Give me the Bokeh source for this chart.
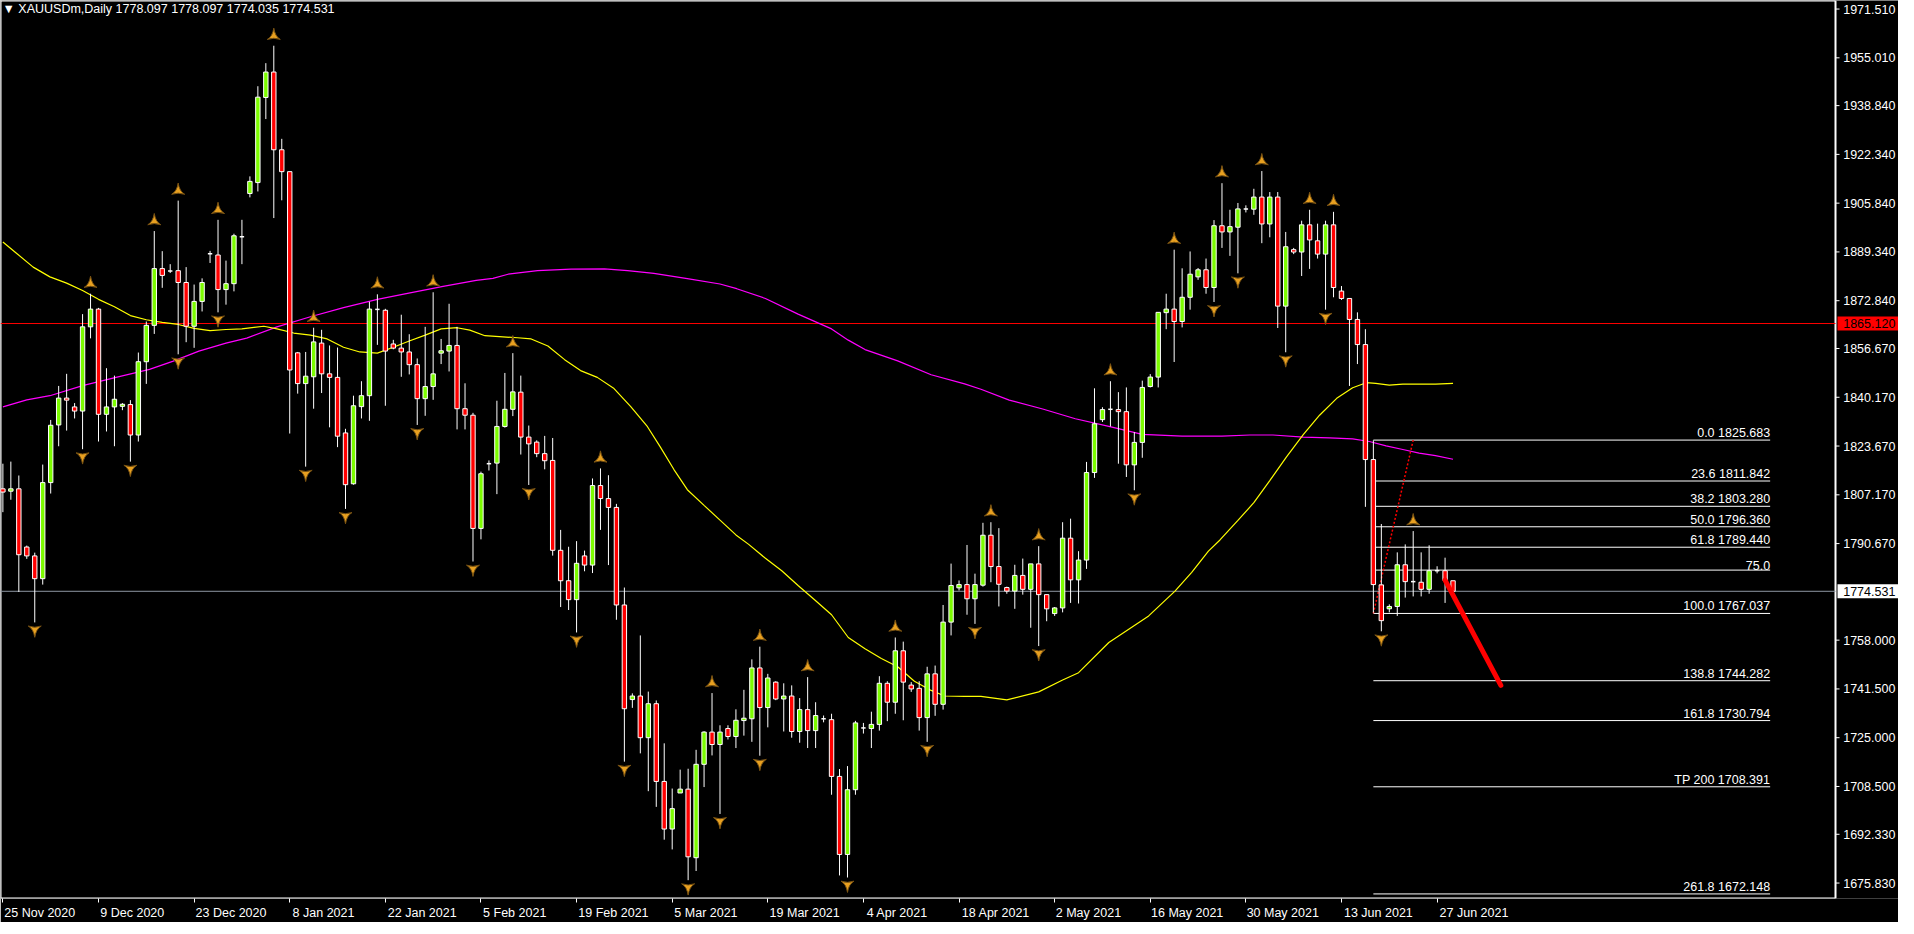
import numpy as np
from bokeh.plotting import figure
from bokeh.models import FixedTicker, Label
from bokeh.core.properties import value
from bokeh.embed import file_html
from bokeh.resources import INLINE

FONT = "Liberation Sans"
FS = "12.5px"

# ---------------- data ----------------
header_text = "\u25bc XAUUSDm,Daily  1778.097 1778.097 1774.035 1774.531"

date_tick_bars = [0, 12, 24, 36, 48, 60, 72, 84, 96, 108, 120, 132, 144, 156, 168, 180]
date_tick_labels = ["25 Nov 2020", "9 Dec 2020", "23 Dec 2020", "8 Jan 2021", "22 Jan 2021",
                    "5 Feb 2021", "19 Feb 2021", "5 Mar 2021", "19 Mar 2021", "4 Apr 2021",
                    "18 Apr 2021", "2 May 2021", "16 May 2021", "30 May 2021", "13 Jun 2021",
                    "27 Jun 2021"]

price_ticks = [1971.510, 1955.010, 1938.840, 1922.340, 1905.840, 1889.340, 1872.840, 1856.670,
               1840.170, 1823.670, 1807.170, 1790.670, 1758.000, 1741.500, 1725.000, 1708.500,
               1692.330, 1675.830]

opens = [1809.2, 1808.4, 1809.2, 1789.5, 1786.5, 1778.8, 1811.3, 1830.8, 1839.9, 1836.9,
         1835.5, 1864.0, 1870.0, 1834.4, 1836.9, 1837.1, 1837.7, 1827.4, 1852.2, 1864.5,
         1883.7, 1882.9, 1883.0, 1879.0, 1864.2, 1872.6, 1888.7, 1888.3, 1876.6, 1878.6,
         1894.5, 1909.1, 1912.8, 1941.6, 1950.2, 1923.9, 1916.5, 1855.2, 1844.8, 1847.1,
         1858.5, 1848.1, 1846.9, 1828.1, 1810.9, 1837.0, 1840.7, 1869.9, 1869.6, 1858.2,
         1856.8, 1855.5, 1851.2, 1839.7, 1843.8, 1855.1, 1855.8, 1857.7, 1836.3, 1834.1,
         1795.8, 1817.7, 1817.9, 1830.3, 1836.1, 1841.9, 1826.7, 1825.0, 1821.1, 1818.8,
         1788.4, 1778.1, 1771.7, 1786.5, 1783.4, 1810.3, 1805.9, 1802.9, 1769.9, 1737.9,
         1739.1, 1725.0, 1736.5, 1710.2, 1694.1, 1706.3, 1707.6, 1684.4, 1716.0, 1726.9,
         1722.7, 1728.1, 1725.4, 1730.8, 1731.4, 1748.6, 1735.2, 1743.8, 1738.1, 1739.1,
         1727.1, 1734.5, 1727.4, 1731.4, 1731.1, 1711.9, 1685.5, 1707.4, 1728.3, 1728.1,
         1729.5, 1743.4, 1737.0, 1754.4, 1742.8, 1741.7, 1731.8, 1746.6, 1736.3, 1764.1,
         1775.7, 1776.8, 1772.0, 1776.6, 1793.5, 1782.9, 1775.8, 1774.6, 1779.9, 1775.2,
         1783.8, 1773.4, 1767.0, 1768.9, 1792.5, 1778.4, 1785.1, 1814.7, 1832.6, 1836.1,
         1836.0, 1835.3, 1817.3, 1824.9, 1843.8, 1847.0, 1868.8, 1870.0, 1865.8, 1874.0,
         1880.9, 1883.3, 1877.3, 1898.2, 1896.1, 1897.7, 1903.9, 1903.8, 1907.9, 1898.8,
         1907.9, 1871.0, 1890.1, 1889.3, 1898.5, 1893.1, 1888.6, 1898.5, 1876.1, 1873.6,
         1866.5, 1858.0, 1819.1, 1776.7, 1768.6, 1769.4, 1783.5, 1777.8, 1777.6, 1775.2,
         1781.5, 1781.5, 1778.097]

highs = [1817.7, 1818.4, 1813.7, 1790.0, 1787.6, 1817.4, 1832.5, 1844.0, 1848.1, 1838.2,
         1868.3, 1875.2, 1870.4, 1850.0, 1847.5, 1838.2, 1839.2, 1855.3, 1865.8, 1896.4,
         1889.6, 1885.2, 1906.7, 1884.2, 1878.3, 1880.4, 1889.7, 1900.2, 1886.4, 1895.5,
         1900.2, 1914.9, 1945.4, 1953.2, 1959.1, 1927.6, 1916.5, 1855.5, 1855.5, 1863.7,
         1863.0, 1857.7, 1857.0, 1829.5, 1840.7, 1845.6, 1872.5, 1875.0, 1870.1, 1859.6,
         1868.1, 1861.5, 1853.3, 1864.0, 1875.7, 1859.9, 1871.8, 1864.0, 1844.9, 1834.9,
         1815.0, 1818.8, 1839.0, 1848.4, 1855.1, 1847.5, 1830.6, 1825.6, 1827.1, 1826.4,
         1795.3, 1789.6, 1791.5, 1788.3, 1812.7, 1816.1, 1813.8, 1804.1, 1775.8, 1740.0,
         1759.6, 1740.6, 1737.6, 1723.1, 1707.8, 1714.2, 1714.5, 1720.9, 1727.2, 1740.1,
         1729.2, 1729.2, 1734.6, 1741.2, 1751.5, 1755.8, 1746.6, 1744.1, 1743.4, 1742.7,
         1738.4, 1745.5, 1737.0, 1732.5, 1733.1, 1714.4, 1715.4, 1730.7, 1730.0, 1733.8,
         1745.8, 1744.1, 1758.9, 1757.5, 1743.8, 1744.1, 1749.0, 1749.4, 1769.9, 1783.9,
         1778.2, 1790.2, 1780.5, 1797.7, 1797.9, 1795.9, 1776.1, 1783.5, 1785.6, 1783.8,
         1789.8, 1773.4, 1769.2, 1797.9, 1799.1, 1788.1, 1818.3, 1843.2, 1836.8, 1845.6,
         1841.9, 1843.5, 1828.4, 1845.8, 1848.0, 1868.9, 1875.2, 1890.1, 1883.8, 1889.5,
         1883.9, 1887.1, 1900.1, 1912.6, 1903.6, 1905.9, 1905.1, 1910.7, 1916.7, 1909.6,
         1909.6, 1896.1, 1890.7, 1899.9, 1903.6, 1898.9, 1899.9, 1902.9, 1877.8, 1873.6,
         1868.9, 1863.2, 1825.6, 1797.3, 1770.1, 1787.7, 1790.4, 1794.9, 1787.7, 1790.1,
         1783.0, 1785.9, 1778.097]

lows = [1801.3, 1805.5, 1774.3, 1785.5, 1764.0, 1776.8, 1807.6, 1823.6, 1828.9, 1833.0,
        1822.6, 1860.1, 1825.2, 1828.6, 1823.6, 1835.8, 1818.4, 1825.2, 1844.7, 1861.6,
        1877.2, 1882.2, 1854.7, 1858.8, 1856.9, 1869.2, 1885.6, 1868.9, 1871.5, 1876.0,
        1885.2, 1907.8, 1909.8, 1934.3, 1900.8, 1906.8, 1827.9, 1841.4, 1816.7, 1836.3,
        1841.6, 1830.0, 1823.3, 1802.4, 1810.6, 1833.0, 1832.2, 1857.9, 1837.3, 1856.4,
        1847.1, 1847.9, 1830.8, 1833.9, 1839.3, 1851.4, 1848.9, 1829.3, 1829.3, 1784.6,
        1792.1, 1815.4, 1807.4, 1829.9, 1833.8, 1820.8, 1810.5, 1819.9, 1815.8, 1786.6,
        1769.2, 1768.2, 1760.6, 1781.3, 1780.7, 1795.3, 1783.4, 1764.9, 1716.9, 1735.1,
        1719.7, 1706.9, 1701.6, 1690.5, 1687.2, 1706.3, 1676.8, 1679.9, 1708.3, 1719.0,
        1699.2, 1724.4, 1721.5, 1725.7, 1723.6, 1718.9, 1728.5, 1737.7, 1727.1, 1725.0,
        1723.3, 1721.5, 1721.5, 1730.2, 1705.7, 1678.4, 1677.7, 1705.7, 1726.4, 1721.5,
        1727.4, 1730.6, 1733.1, 1730.9, 1740.5, 1727.4, 1723.6, 1732.4, 1734.5, 1759.6,
        1774.8, 1766.6, 1763.5, 1776.1, 1777.6, 1769.4, 1773.7, 1768.6, 1773.4, 1762.2,
        1756.0, 1764.4, 1766.2, 1767.4, 1770.6, 1770.4, 1782.1, 1812.9, 1831.8, 1830.3,
        1817.7, 1813.2, 1808.7, 1819.7, 1843.5, 1843.5, 1863.2, 1852.1, 1863.8, 1869.8,
        1879.9, 1875.2, 1872.4, 1890.7, 1888.0, 1882.1, 1902.7, 1901.9, 1892.3, 1894.3,
        1863.6, 1855.4, 1888.6, 1881.2, 1883.6, 1887.1, 1869.8, 1874.0, 1873.1, 1844.0,
        1851.4, 1803.1, 1767.3, 1761.0, 1767.4, 1766.2, 1772.4, 1772.8, 1772.8, 1773.7,
        1780.6, 1770.6, 1774.035]

closes = [1808.1, 1809.2, 1786.9, 1786.5, 1778.8, 1811.3, 1830.7, 1839.9, 1839.2, 1835.5,
          1864.0, 1870.0, 1834.4, 1836.9, 1839.5, 1837.8, 1827.4, 1852.2, 1864.5, 1883.7,
          1881.4, 1882.9, 1879.0, 1864.2, 1872.6, 1879.0, 1888.7, 1876.6, 1878.6, 1894.8,
          1894.5, 1913.2, 1941.7, 1950.2, 1923.9, 1916.5, 1849.4, 1844.8, 1847.3, 1858.9,
          1848.1, 1846.9, 1827.0, 1810.6, 1837.3, 1840.7, 1870.0, 1869.9, 1855.8, 1856.8,
          1855.5, 1851.2, 1839.7, 1843.8, 1848.1, 1855.9, 1857.7, 1836.3, 1834.1, 1795.8,
          1814.3, 1817.7, 1830.3, 1836.1, 1842.0, 1826.7, 1824.4, 1821.1, 1818.7, 1788.4,
          1778.1, 1771.7, 1784.0, 1783.4, 1810.3, 1805.9, 1802.9, 1769.9, 1734.8, 1739.1,
          1725.0, 1736.5, 1710.2, 1694.1, 1701.0, 1707.6, 1684.7, 1716.0, 1726.9, 1722.7,
          1726.9, 1725.4, 1730.9, 1731.6, 1748.6, 1735.2, 1745.2, 1738.1, 1739.1, 1727.1,
          1734.5, 1727.4, 1732.5, 1731.4, 1711.9, 1685.5, 1707.4, 1730.0, 1728.3, 1729.5,
          1743.4, 1737.0, 1754.4, 1743.8, 1741.5, 1731.8, 1746.6, 1736.3, 1764.1, 1776.5,
          1776.8, 1772.0, 1776.8, 1793.5, 1782.9, 1776.9, 1774.6, 1779.9, 1775.2, 1783.8,
          1773.4, 1768.6, 1768.9, 1792.5, 1778.4, 1785.1, 1814.7, 1831.2, 1836.0, 1836.1,
          1835.3, 1817.3, 1824.9, 1843.5, 1847.0, 1868.9, 1870.0, 1865.8, 1874.0, 1881.8,
          1883.3, 1877.3, 1898.2, 1896.1, 1897.9, 1903.9, 1903.9, 1907.9, 1898.8, 1907.9,
          1871.0, 1891.1, 1889.3, 1898.5, 1893.4, 1888.6, 1898.5, 1877.3, 1873.6, 1866.5,
          1858.0, 1819.1, 1776.8, 1764.6, 1769.4, 1783.5, 1777.8, 1777.8, 1775.2, 1781.5,
          1781.5, 1778.2, 1774.531]

# yellow moving average, read at bar positions
ma_yellow_bar = [0, 1.7, 3.8, 5.9, 8, 10, 12, 14, 16, 18, 20, 22, 24, 26, 28, 30, 32.75, 34.4,
                 36.5, 38.6, 40.7, 42.75, 44.8, 47, 49, 51, 53, 55, 57, 58.6, 60.5, 64.6, 66.3,
                 68.4, 70.5, 72.5, 74.6, 76.7, 78.8, 80.9, 82.5, 84.2, 85.9, 88, 90, 92, 93.6,
                 95.7, 97.75, 99.8, 101.9, 104, 106.1, 108.2, 110.25, 112.3, 114.4, 116.5, 118.2,
                 120.7, 122.75, 126, 130, 133, 135, 138.8, 143.8, 147.1, 149.2, 151.3, 152.75,
                 155, 157, 159, 161.1, 163.2, 165.25, 167.4, 169.4, 171.1, 172.3, 174, 175.7,
                 179.8, 182]
ma_yellow_val = [1892.7, 1888.9, 1884.2, 1880.9, 1878.8, 1876.3, 1873.3, 1870.8, 1867.8, 1866.4,
                 1865.5, 1864.8, 1863.5, 1862.7, 1863.1, 1863.3, 1864.2, 1863.3, 1861.9, 1861.2,
                 1859.9, 1857.1, 1855.5, 1855.1, 1857.1, 1859.2, 1861.2, 1863.3, 1863.7, 1862.9,
                 1861.0, 1860.3, 1859.9, 1857.5, 1852.9, 1849.2, 1846.9, 1843.1, 1837.0, 1830.2,
                 1823.4, 1815.8, 1808.9, 1803.6, 1798.6, 1793.6, 1790.4, 1785.7, 1781.5, 1776.5,
                 1771.6, 1766.6, 1758.9, 1755.1, 1751.8, 1749.0, 1744.1, 1741.0, 1739.1, 1739.0,
                 1739.0, 1737.8, 1740.5, 1744.5, 1747.0, 1757.2, 1766.2, 1774.6, 1780.9, 1788.1,
                 1791.9, 1798.5, 1804.5, 1812.0, 1820.0, 1827.5, 1834.1, 1839.8, 1843.4, 1845.1,
                 1844.9, 1844.3, 1844.6, 1844.6, 1844.9]

# magenta moving average, read at bar positions
ma_magenta_bar = [0, 3, 5.9, 10, 14.2, 18.4, 21.3, 24.6, 28, 30.6, 34.4, 38.6, 42.75, 47, 51.1,
                  55.25, 59.4, 61.5, 63.4, 67.1, 71.3, 75.5, 78.4, 81.7, 85.9, 90, 92.1, 95.7,
                  99.8, 104, 106.1, 108.2, 112.3, 116.5, 120.7, 122.75, 126.3, 130.5, 134.6,
                  138.8, 143, 148, 153, 156.5, 159.4, 163.2, 166.5, 169.4, 171.5, 173.6, 175.7,
                  177.75, 179.8, 182]
ma_magenta_val = [1836.9, 1839.3, 1840.7, 1844.1, 1846.9, 1849.6, 1852.3, 1855.8, 1858.5, 1860.2,
                  1864.0, 1867.4, 1870.5, 1873.3, 1875.5, 1877.7, 1879.7, 1880.4, 1881.8, 1883.0,
                  1883.5, 1883.6, 1883.0, 1882.1, 1880.3, 1878.5, 1876.9, 1873.6, 1868.3, 1863.3,
                  1859.5, 1856.3, 1852.5, 1847.8, 1844.7, 1842.9, 1839.2, 1836.2, 1832.9, 1830.3,
                  1827.6, 1827.0, 1827.0, 1827.4, 1827.4, 1826.7, 1826.4, 1826.1, 1825.2, 1823.7,
                  1822.5, 1821.3, 1820.4, 1819.2]

up_fractal_bars = [11, 19, 22, 27, 34, 39, 47, 54, 64, 75, 89, 95, 101, 112, 124, 130, 139, 147,
                   153, 158, 164, 167, 177]
down_fractal_bars = [4, 10, 16, 22, 27, 38, 43, 52, 59, 66, 72, 78, 86, 90, 95, 106, 116, 122,
                     130, 142, 152, 155, 161, 166, 173]

fib_texts = ["0.0 1825.683", "23.6 1811.842", "38.2 1803.280", "50.0 1796.360", "61.8 1789.440",
             "75.0", "100.0 1767.037", "138.8 1744.282", "161.8 1730.794", "TP 200 1708.391",
             "261.8 1672.148"]
fib_prices = [1825.683, 1811.842, 1803.280, 1796.360, 1789.440, 1781.699, 1767.037, 1744.282,
              1730.794, 1708.391, 1672.148]
fib_bars = [172, 221.8]
fib_anchor_bars = [172, 177]
fib_anchor_prices = [1767.037, 1825.683]

arrow_bars = [181, 188]
arrow_prices = [1778.3, 1742.7]

hline_price = 1865.120
bid_price = 1774.531
tag_prices = [hline_price, bid_price]
tag_texts = ["1865.120", "1774.531"]
tag_fills = ["#FF0000", "#FFFFFF"]

# ---------------- geometry ----------------
CHART_W = 1835          # chart area width (px)
SCALE_W = 63            # price-scale strip width (px)
FRAME_H = 898
X0 = -0.3               # left edge of the chart (bars)
EDGE = 230              # right edge of the chart area (bars)
PPB = CHART_W / (EDGE - X0)
X_RANGE = (X0, EDGE + SCALE_W / PPB)
Y_RANGE = (1670.6, 1974.4)

p = figure(frame_width=CHART_W + SCALE_W, frame_height=FRAME_H, x_range=X_RANGE,
           y_range=Y_RANGE, output_backend="svg", toolbar_location=None,
           y_axis_location=None, min_border_left=0, min_border_top=0, min_border_right=0,
           min_border_bottom=20, background_fill_color="black", border_fill_color="black",
           outline_line_color=None)
p.grid.visible = False

# date axis: tick marks at the bars (minor ticks), labels set to start at the tick
label_pos = [round(b + (len(t) * 6.35 / 2 + 2) / PPB, 2)
             for b, t in zip(date_tick_bars, date_tick_labels)]
p.xaxis.ticker = FixedTicker(ticks=label_pos, minor_ticks=date_tick_bars)
p.xaxis.major_label_overrides = {pos: t for pos, t in zip(label_pos, date_tick_labels)}
p.xaxis.axis_line_color = None
p.xaxis.major_tick_line_color = None
p.xaxis.major_tick_in = 0
p.xaxis.major_tick_out = 4
p.xaxis.minor_tick_line_color = "white"
p.xaxis.minor_tick_in = 0
p.xaxis.minor_tick_out = 4
p.xaxis.major_label_standoff = 3
p.xaxis.major_label_text_color = "white"
p.xaxis.major_label_text_font = FONT
p.xaxis.major_label_text_font_size = FS

# chart border (left, top, bottom, right)
p.segment(x0=[X0, X0, X0, EDGE], y0=[Y_RANGE[0], Y_RANGE[1], Y_RANGE[0], Y_RANGE[0]],
          x1=[X0, EDGE, EDGE, EDGE], y1=[Y_RANGE[1], Y_RANGE[1], Y_RANGE[0], Y_RANGE[1]],
          line_color="white", line_width=2)

# horizontal lines
p.segment(x0=[X0, X0], y0=[hline_price, bid_price], x1=[EDGE, EDGE], y1=[hline_price, bid_price],
          line_color=["#FF0000", "#8E97A3"], line_width=1)

# price scale: tick marks and labels
nt = len(price_ticks)
p.segment(x0=[EDGE] * nt, y0=price_ticks, x1=[EDGE + 4 / PPB] * nt, y1=price_ticks,
          line_color="white", line_width=1)
p.text(x=[EDGE + 7.7 / PPB] * nt, y=price_ticks, text=[f"{v:.3f}" for v in price_ticks],
       text_align="left", text_baseline="middle", text_color="white",
       text_font=value(FONT), text_font_size=FS)

# price tags
p.rect(x=[EDGE + (2 + SCALE_W / 2) / PPB] * 2, y=tag_prices, width=SCALE_W, height=14,
       width_units="screen", height_units="screen", fill_color=tag_fills, line_color=None)
p.text(x=[EDGE + 7.7 / PPB] * 2, y=tag_prices, text=tag_texts, text_align="left",
       text_baseline="middle", text_color="black", text_font=value(FONT), text_font_size=FS)

# moving averages
p.line(ma_magenta_bar, ma_magenta_val, line_color="#FF00FF", line_width=1.2)
p.line(ma_yellow_bar, ma_yellow_val, line_color="#FFFF00", line_width=1.2)

# fibonacci
n = len(fib_prices)
p.segment(x0=[fib_bars[0]] * n, y0=fib_prices, x1=[fib_bars[1]] * n, y1=fib_prices,
          line_color="white", line_width=1)
p.text(x=[fib_bars[1]] * n, y=fib_prices, text=fib_texts, text_align="right",
       text_baseline="bottom", text_color="white", text_font=value(FONT), text_font_size=FS)
p.line(fib_anchor_bars, fib_anchor_prices, line_color="#FF0000", line_width=1.5,
       line_dash="2 2")

# candles
o = np.array(opens); h = np.array(highs); l = np.array(lows); c = np.array(closes)
idx = np.arange(len(o))
bull = c > o
bear = c < o
doji = c == o
W = 0.55
p.segment(x0=idx, y0=h, x1=idx, y1=l, line_color="white", line_width=1)
p.vbar(x=idx[bull], bottom=o[bull], top=c[bull], width=W, fill_color="#7CFC00",
       line_color="white", line_width=1)
p.vbar(x=idx[bear], bottom=c[bear], top=o[bear], width=W, fill_color="#FF0000",
       line_color="white", line_width=1)
p.segment(x0=idx[doji] - W / 2, y0=o[doji], x1=idx[doji] + W / 2, y1=o[doji],
          line_color="white", line_width=1.5)

# fractals
ub = np.array(up_fractal_bars); db = np.array(down_fractal_bars)
p.scatter(x=ub, y=h[ub] + 3.4, marker="triangle_pin", size=13, fill_color="#E8A020",
          line_color="#7A5312", line_width=1)
p.scatter(x=db, y=l[db] - 2.5, marker="triangle_pin", size=13, angle=np.pi,
          fill_color="#E8A020", line_color="#7A5312", line_width=1)

# red projection line
p.line(arrow_bars, arrow_prices, line_color="#FF0000", line_width=5, line_cap="round")

# header
p.add_layout(Label(x=2, y=Y_RANGE[1], x_units="screen", y_units="data", text=header_text,
                   text_baseline="top", text_align="left", text_color="white",
                   text_font=FONT, text_font_size=FS, y_offset=-1))

open("out.html", "w").write(file_html(p, INLINE))
